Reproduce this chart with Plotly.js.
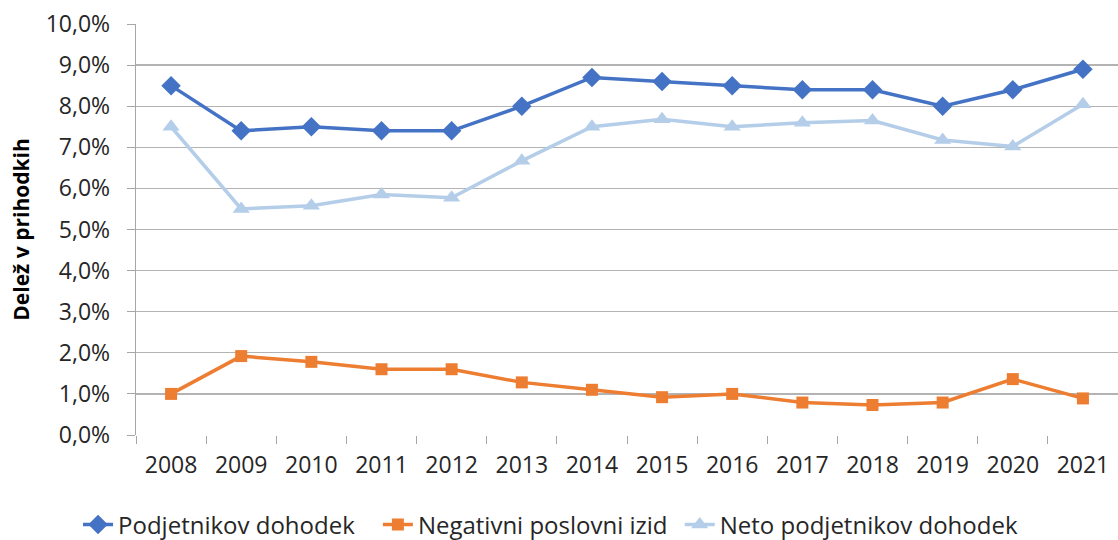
<!DOCTYPE html>
<html>
<head>
<meta charset="utf-8">
<script src="https://cdn.plot.ly/plotly-3.0.1.min.js"></script>
<style>html,body{margin:0;padding:0;background:#fff;}#chart{width:1118px;height:540px;}</style>
</head>
<body>
<div id="chart"></div>
<script>
const years = ["2008","2009","2010","2011","2012","2013","2014","2015","2016","2017","2018","2019","2020","2021"];
const podjetnikovDohodek = [8.5, 7.4, 7.5, 7.4, 7.4, 8.0, 8.7, 8.6, 8.5, 8.4, 8.4, 8.0, 8.4, 8.9];
const negativniPoslovniIzid = [1.0, 1.92, 1.78, 1.6, 1.6, 1.28, 1.1, 0.92, 1.0, 0.79, 0.73, 0.79, 1.36, 0.89];
const netoPodjetnikovDohodek = [7.5, 5.5, 5.58, 5.85, 5.77, 6.67, 7.5, 7.68, 7.5, 7.6, 7.65, 7.18, 7.02, 8.05];
const seriesNames = ["Podjetnikov dohodek", "Negativni poslovni izid", "Neto podjetnikov dohodek"];
const yTitle = "Delež v prihodkih";

const FONT = "Open Sans, Liberation Sans, Arial, sans-serif";
const traces = [
  {x: years, y: podjetnikovDohodek, name: seriesNames[0], type: "scatter", mode: "lines+markers", legend: "legend",
   line: {color: "#4472C4", width: 3.5}, marker: {symbol: "diamond", size: 15, color: "#4472C4"}},
  {x: years, y: negativniPoslovniIzid, name: seriesNames[1], type: "scatter", mode: "lines+markers", legend: "legend2",
   line: {color: "#ED7D31", width: 3.5}, marker: {symbol: "square", size: 12, color: "#ED7D31"}},
  {x: years, y: netoPodjetnikovDohodek, name: seriesNames[2], type: "scatter", mode: "lines+markers", legend: "legend3",
   line: {color: "#B4CDE8", width: 3.5}, marker: {symbol: "triangle-up", size: 15, color: "#B4CDE8"}}
];
function leg(x) {
  return {orientation: "h", xref: "container", yref: "container", x: x, xanchor: "left", y: 0.028, yanchor: "middle",
          bgcolor: "rgba(0,0,0,0)", font: {family: FONT, size: 24, color: "#262626"}};
}
const layout = {
  width: 1118, height: 540,
  margin: {l: 136, r: 0, t: 24, b: 105},
  paper_bgcolor: "#fff", plot_bgcolor: "#fff",
  separators: ", ",
  font: {family: FONT, size: 22, color: "#262626"},
  showlegend: true,
  legend: leg(0.0698),
  legend2: leg(0.338),
  legend3: leg(0.608),
  xaxis: {type: "category", range: [-0.5, 13.5], showgrid: false, zeroline: false, automargin: false,
          showline: false, ticks: "outside", tickson: "boundaries", ticklen: 8, tickcolor: "#a6a6a6",
          ticklabelstandoff: 14,
          tickfont: {family: FONT, size: 23, color: "#262626"}, fixedrange: true},
  yaxis: {range: [0, 10], dtick: 1, tick0: 0, tickformat: ".1f", ticksuffix: "%", automargin: false,
          showgrid: true, gridcolor: "#b3b3b3", gridwidth: 1.3, zeroline: false,
          showline: true, linecolor: "#a6a6a6", linewidth: 1.3,
          ticks: "outside", ticklen: 8, tickcolor: "#a6a6a6", ticklabelstandoff: 12,
          tickfont: {family: FONT, size: 23, color: "#262626"},
          title: {text: "<b>" + yTitle + "</b>", font: {family: FONT, size: 21, color: "#000"}, standoff: 10}}
};
Plotly.newPlot("chart", traces, layout, {displayModeBar: false, staticPlot: true});
</script>
</body>
</html>
